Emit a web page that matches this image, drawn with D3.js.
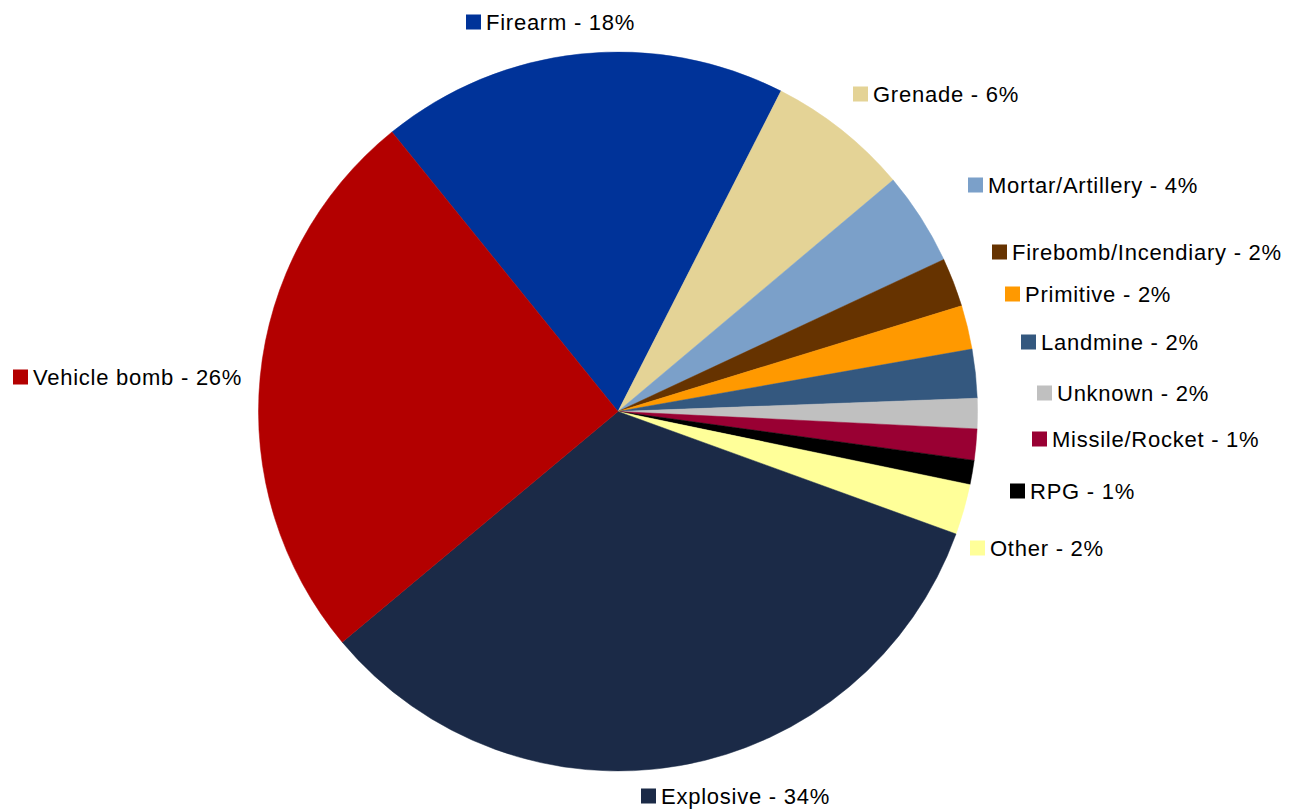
<!DOCTYPE html>
<html>
<head>
<meta charset="utf-8">
<script src="https://cdn.jsdelivr.net/npm/d3@7"></script>
<style>
  html, body { margin: 0; padding: 0; background: #ffffff; }
  svg { display: block; }
  text { font-family: "Liberation Sans", Arial, Helvetica, sans-serif; }
</style>
</head>
<body>
<svg id="chart" width="1294" height="810"></svg>
<script>
// ---- data ----
const categories = ["Firearm", "Grenade", "Mortar/Artillery", "Firebomb/Incendiary", "Primitive",
  "Landmine", "Unknown", "Missile/Rocket", "RPG", "Other", "Explosive", "Vehicle bomb"];
const values = [18.31, 6.38, 4.18, 2.20, 1.97, 2.19, 1.36, 1.40, 1.09, 2.27, 33.38, 25.26];
const percentLabels = ["18%", "6%", "4%", "2%", "2%", "2%", "2%", "1%", "1%", "2%", "34%", "26%"];
const colors = ["#003399", "#E4D396", "#7BA0C9", "#663300", "#FF9900", "#34587F",
  "#C0C0C0", "#990033", "#000000", "#FFFF99", "#1B2A47", "#B30000"];

// ---- layout (label anchor: left edge of swatch, vertical centre) ----
const labelPos = [[466, 22], [853, 94], [968, 185], [992, 252], [1005, 294], [1021, 342],
  [1037, 393], [1032, 439], [1010, 491], [970, 548], [641, 796], [13, 377]];

const svg = d3.select("#chart");
const cx = 618, cy = 411.5, R = 359.5;
const startDeg = -38.96;

const pie = d3.pie().sort(null).value(d => d.value)
  .startAngle(startDeg * Math.PI / 180)
  .endAngle(startDeg * Math.PI / 180 + 2 * Math.PI);
const data = categories.map((c, i) => ({ name: c, value: values[i], color: colors[i], pct: percentLabels[i], pos: labelPos[i] }));
const arc = d3.arc().innerRadius(0).outerRadius(R);

const g = svg.append("g").attr("transform", `translate(${cx},${cy})`);
g.selectAll("path").data(pie(data)).enter().append("path")
  .attr("d", arc)
  .attr("fill", d => d.data.color)
  .attr("stroke", d => d.data.color)
  .attr("stroke-width", 0.5);

const lg = svg.append("g");
const items = lg.selectAll("g.lbl").data(data).enter().append("g").attr("class", "lbl")
  .attr("transform", d => `translate(${d.pos[0]},${d.pos[1]})`);
items.append("rect")
  .attr("x", 0).attr("y", -7.5).attr("width", 15).attr("height", 15)
  .attr("fill", d => d.color);
items.append("text")
  .attr("x", 20).attr("y", 0).attr("dy", "0.36em")
  .attr("font-size", 22)
  .attr("letter-spacing", 0.75)
  .attr("fill", "#000")
  .text(d => `${d.name} - ${d.pct}`);
</script>
</body>
</html>
